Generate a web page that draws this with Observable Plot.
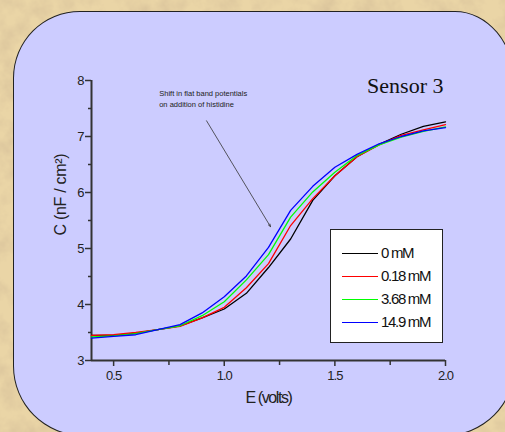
<!DOCTYPE html>
<html>
<head>
<meta charset="utf-8">
<script src="https://cdn.jsdelivr.net/npm/d3@7"></script>
<script src="https://cdn.jsdelivr.net/npm/@observablehq/plot@0.6"></script>
<style>
  html, body { margin: 0; padding: 0; }
  body {
    width: 505px; height: 432px; overflow: hidden; position: relative;
    background-color: #ead5a6;
  }
  #texture { position: absolute; left: 0; top: 0; }
  #panel {
    position: absolute; left: 13px; top: 11px; width: 500px; height: 423px;
    background: #ccccff; border: 1.5px solid #222;
    border-radius: 67px 60px 70px 70px / 67px 72px 70px 70px;
  }
  #chart { position: absolute; left: 0; top: 0; }
  #chart svg { overflow: visible; }
  #legend {
    position: absolute; left: 330px; top: 229px; width: 111px; height: 112px;
    background: #fff; border: 1.5px solid #222;
    font-family: "Liberation Sans", Arial, sans-serif; font-size: 15px; color: #111;
    letter-spacing: -1.3px;
  }
  .row { position: absolute; left: 0; height: 16px; }
  .row .sw { position: absolute; left: 11px; width: 36px; height: 1px; top: 8px; }
  .row .lb { position: absolute; left: 50px; top: 0; line-height: 16px; white-space: nowrap; }
</style>
</head>
<body>
<svg id="texture" width="505" height="432">
  <filter id="noise" x="0" y="0" width="100%" height="100%">
    <feTurbulence type="fractalNoise" baseFrequency="0.05" numOctaves="4" seed="7"/>
    <feColorMatrix type="matrix" values="0 0 0 0 0.70  0 0 0 0 0.55  0 0 0 0 0.33  1.8 0 0 0 -0.7"/>
  </filter>
  <rect width="505" height="432" filter="url(#noise)"/>
</svg>
<div id="panel"></div>
<div id="chart"></div>
<div id="legend"></div>
<script>
// ---- data ----
const voltages = [0.4, 0.5, 0.6, 0.7, 0.8, 0.9, 1.0, 1.1, 1.2, 1.3, 1.4, 1.5, 1.6, 1.7, 1.8, 1.9, 2.0];
const seriesNames = ["0 mM", "0.18 mM", "3.68 mM", "14.9 mM"];
const seriesColors = ["#000000", "#ff0000", "#00ff00", "#0000ff"];
const cap0mM   = [3.45, 3.45, 3.49, 3.55, 3.62, 3.76, 3.92, 4.20, 4.66, 5.17, 5.86, 6.30, 6.64, 6.86, 7.04, 7.18, 7.26];
const cap018mM = [3.45, 3.46, 3.50, 3.55, 3.61, 3.76, 3.95, 4.30, 4.73, 5.41, 5.89, 6.30, 6.64, 6.85, 7.02, 7.12, 7.21];
const cap368mM = [3.42, 3.44, 3.48, 3.55, 3.62, 3.80, 4.05, 4.44, 4.89, 5.56, 6.01, 6.36, 6.66, 6.85, 6.99, 7.09, 7.17];
const cap149mM = [3.40, 3.43, 3.46, 3.55, 3.64, 3.85, 4.14, 4.51, 5.02, 5.68, 6.11, 6.45, 6.68, 6.87, 7.00, 7.10, 7.16];
const xMajorTicks = [0.5, 1.0, 1.5, 2.0];
const xMinorTicks = [0.75, 1.25, 1.75];
const yMajorTicks = [3, 4, 5, 6, 7, 8];
const yMinorTicks = [3.5, 4.5, 5.5, 6.5, 7.5];
const xDomain = [0.4, 2.0];
const yDomain = [3, 8];
const chartTitle = "Sensor 3";
const xLabel = "E (volts)";
const yLabel = "C (nF / cm²)";
const noteText = "Shift in flat band potentials\non addition of histidine";
const noteAnchor = [{x: 0.706, y: 7.86}];
const noteArrow = [{x1: 0.92, y1: 7.28, x2: 1.209, y2: 5.39}];

// ---- build table ----
const allSeries = [cap0mM, cap018mM, cap368mM, cap149mM];
const rows = [];
allSeries.forEach((vals, i) => vals.forEach((c, j) => rows.push({E: voltages[j], C: c, s: seriesNames[i]})));

const axisColor = "#333";
const plot = Plot.plot({
  width: 505, height: 432,
  marginLeft: 91, marginRight: 60, marginTop: 80, marginBottom: 72,
  style: {background: "transparent", fontFamily: "'Liberation Sans', Arial, sans-serif", fontSize: "13px", color: "#222"},
  x: {domain: xDomain, label: null},
  y: {domain: yDomain, label: null},
  color: {domain: seriesNames, range: seriesColors},
  marks: [
    Plot.axisX({ticks: xMajorTicks, tickFormat: d3.format(".1f"), tickSize: 6, tickPadding: 4, label: null, stroke: axisColor, strokeWidth: 1.5, fontSize: 13, fill: "#222"}),
    Plot.axisX({ticks: xMinorTicks, tickSize: 5, text: null, label: null, stroke: axisColor, strokeWidth: 1.5}),
    Plot.axisY({ticks: yMajorTicks, tickFormat: d3.format("d"), tickSize: 6, tickPadding: 2, label: null, stroke: axisColor, strokeWidth: 1.5, fontSize: 13, fill: "#222"}),
    Plot.axisY({ticks: yMinorTicks, tickSize: 3, text: null, label: null, stroke: axisColor, strokeWidth: 1.5}),
    Plot.ruleX([xDomain[0]], {stroke: axisColor, strokeWidth: 2}),
    Plot.ruleY([yDomain[0]], {stroke: axisColor, strokeWidth: 2}),
    Plot.line(rows, {x: "E", y: "C", z: "s", stroke: "s", strokeWidth: 1.3}),
    Plot.arrow(noteArrow, {x1: "x1", y1: "y1", x2: "x2", y2: "y2", stroke: "#333", strokeWidth: 0.8, headLength: 5, headAngle: 40}),
    Plot.text(noteAnchor, {x: "x", y: "y", text: () => noteText, textAnchor: "start", lineAnchor: "top", lineHeight: 1.47, fontSize: 7.5, fill: "#222"}),
    Plot.text([chartTitle], {frameAnchor: "top-right", dx: -2, dy: 12, lineAnchor: "bottom", fontFamily: "'Liberation Serif', 'Times New Roman', serif", fontSize: 22, fill: "#111"}),
    Plot.text([xLabel], {frameAnchor: "bottom", dy: 42, fontSize: 16, fill: "#222"}),
    Plot.text([yLabel], {frameAnchor: "left", dx: -31, dy: 15, rotate: -90, fontSize: 16, fill: "#222"})
  ]
});
document.getElementById("chart").appendChild(plot);

// condensed lettering like the original
d3.select(plot).selectAll("text").each(function () {
  const t = this.textContent;
  if (t === xLabel) this.style.letterSpacing = "-1.4px";
  else if (t === yLabel) this.style.letterSpacing = "-0.3px";
  else if (/^\d(\.\d)?$/.test(t)) this.style.letterSpacing = "-1px";
});

// legend
const legend = document.getElementById("legend");
seriesNames.forEach((n, i) => {
  const r = document.createElement("div");
  r.className = "row";
  r.style.top = Math.round(14.5 + i * 23.3) + "px";
  r.innerHTML = `<div class="sw" style="background:${seriesColors[i]}"></div><div class="lb">${n}</div>`;
  legend.appendChild(r);
});
</script>
</body>
</html>
